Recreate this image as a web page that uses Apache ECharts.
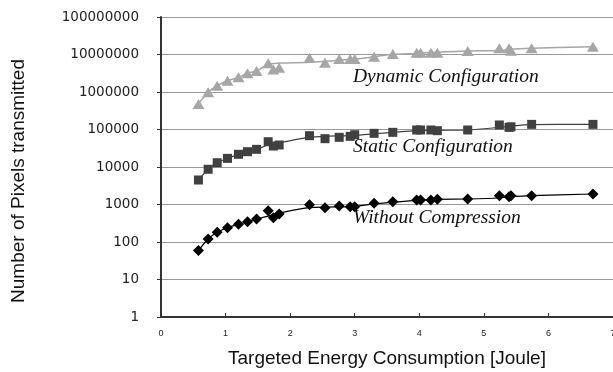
<!DOCTYPE html>
<html>
<head>
<meta charset="utf-8">
<script src="https://cdn.jsdelivr.net/npm/echarts@6/dist/echarts.min.js"></script>
<style>html,body{margin:0;padding:0;background:#fff}#c{width:613px;height:372px}</style>
</head>
<body>
<div id="c"></div>
<script>
// Targeted energy (Joule) for each measured point
const energy = [0.58, 0.73, 0.87, 1.03, 1.20, 1.34, 1.48, 1.66, 1.74, 1.83, 2.30, 2.54, 2.76, 2.93, 3.00, 3.30, 3.59, 3.96, 4.02, 4.18, 4.28, 4.75, 5.24, 5.39, 5.42, 5.74, 6.69];
const withoutCompression = [59, 120, 182, 240, 296, 348, 410, 684, 446, 560, 988, 822, 911, 877, 877, 1075, 1188, 1318, 1318, 1318, 1377, 1400, 1718, 1620, 1700, 1718, 1905];
const staticConfig = [4500, 8700, 13000, 17000, 21800, 25600, 29600, 47300, 36300, 38600, 68300, 56900, 61800, 65700, 72700, 79000, 84000, 97000, 97000, 97000, 93000, 97000, 132000, 114000, 118000, 137000, 137000];
const dynamicConfig = [480000, 980000, 1470000, 2000000, 2460000, 3160000, 3630000, 5800000, 4000000, 4450000, 8200000, 6000000, 7600000, 7600000, 7600000, 8700000, 10300000, 11200000, 11200000, 11200000, 11200000, 12400000, 14600000, 14600000, 12600000, 14600000, 16200000];

// Trend curves as drawn in the picture
const trendEnergy = [0.58, 0.73, 0.87, 1.03, 1.20, 1.34, 1.48, 1.66, 1.83, 2.30, 3.00, 3.30, 3.59, 3.96, 4.28, 4.75, 5.24, 5.42, 5.74, 6.69];
const withoutTrend = [59, 120, 182, 240, 296, 348, 410, 490, 590, 822, 895, 1030, 1145, 1295, 1376, 1400, 1490, 1634, 1718, 1905];
const staticTrend = [4500, 8700, 13000, 17000, 21800, 25600, 29600, 38600, 44000, 61800, 70000, 77000, 84000, 93000, 95000, 97000, 114000, 124000, 135000, 137000];
const dynamicTrend = [480000, 980000, 1470000, 2000000, 2460000, 3160000, 3630000, 5500000, 5900000, 6200000, 7600000, 8700000, 10100000, 10700000, 11500000, 12400000, 12700000, 13800000, 14600000, 16200000];

const xTickLabels = ['0', '1', '2', '3', '4', '5', '6', '7'];
const yTickLabels = ['1', '10', '100', '1000', '10000', '100000', '1000000', '10000000', '100000000'];
const seriesNames = ['Dynamic Configuration', 'Static Configuration', 'Without Compression'];
const xTitle = 'Targeted Energy Consumption [Joule]';
const yTitle = 'Number of Pixels transmitted';

const zip = (xs, ys) => xs.map((x, i) => [x, ys[i]]);

const annot = (text, pos) => ({type: 'text', position: pos,
  style: {text: text, fontFamily: 'Liberation Serif', fontStyle: 'italic', fontSize: 19.5, fill: '#111', textAlign: 'left', textVerticalAlign: 'middle'}});

const chart = echarts.init(document.getElementById('c'), null, {renderer: 'canvas'});
chart.setOption({
  animation: false,
  backgroundColor: '#fff',
  grid: {left: 161, top: 17, right: 0, bottom: 55, containLabel: false, outerBoundsMode: 'none'},
  xAxis: {
    type: 'value', min: 0, max: 7, interval: 1,
    name: xTitle, nameLocation: 'middle', nameGap: 32,
    nameTextStyle: {fontFamily: 'Liberation Sans', fontSize: 19, color: '#111'},
    axisLine: {show: true, onZero: false, lineStyle: {color: '#333', width: 2}},
    axisTick: {show: true, inside: true, length: 4, lineStyle: {color: '#333'}},
    axisLabel: {margin: 12, fontFamily: 'Liberation Sans', fontSize: 9, color: '#222',
      formatter: v => xTickLabels[Math.round(v)]},
    splitLine: {show: false}
  },
  yAxis: {
    type: 'log', logBase: 10, min: 1, max: 100000000,
    axisLine: {show: true, lineStyle: {color: '#333', width: 2}},
    axisTick: {show: true, inside: false, length: 4, lineStyle: {color: '#333'}},
    axisLabel: {margin: 22, fontFamily: 'DejaVu Sans', fontSize: 13.5, color: '#222',
      formatter: v => yTickLabels[Math.round(Math.log10(v))]},
    splitLine: {show: true, lineStyle: {color: '#999', width: 1}},
    minorTick: {show: false}
  },
  graphic: [
    {type: 'text', position: [19, 181], rotation: Math.PI / 2,
      style: {text: yTitle, fontFamily: 'Liberation Sans', fontSize: 19, fill: '#111', textAlign: 'center', textVerticalAlign: 'middle'}},
    annot(seriesNames[0], [353, 77]),
    annot(seriesNames[1], [353, 147]),
    annot(seriesNames[2], [353, 218])
  ],
  series: [
    {type: 'line', data: zip(trendEnergy, dynamicTrend), smooth: 0.3, showSymbol: false, lineStyle: {color: '#a6a6a6', width: 1.5}, z: 2},
    {type: 'line', data: zip(trendEnergy, staticTrend), smooth: 0.3, showSymbol: false, lineStyle: {color: '#404040', width: 1.2}, z: 2},
    {type: 'line', data: zip(trendEnergy, withoutTrend), smooth: 0.3, showSymbol: false, lineStyle: {color: '#000', width: 1.2}, z: 2},
    {name: seriesNames[0], type: 'scatter', data: zip(energy, dynamicConfig), symbol: 'triangle', symbolSize: [12, 10], itemStyle: {color: '#a6a6a6', opacity: 1}, z: 3},
    {name: seriesNames[1], type: 'scatter', data: zip(energy, staticConfig), symbol: 'rect', symbolSize: 9, itemStyle: {color: '#404040', opacity: 1}, z: 3},
    {name: seriesNames[2], type: 'scatter', data: zip(energy, withoutCompression), symbol: 'diamond', symbolSize: [11, 11], itemStyle: {color: '#000', opacity: 1}, z: 3}
  ]
});
</script>
</body>
</html>
